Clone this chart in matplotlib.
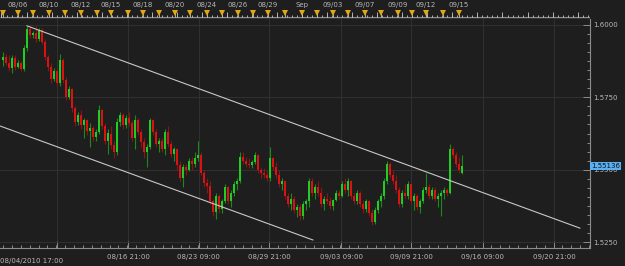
import matplotlib
matplotlib.use('Agg')
import matplotlib.pyplot as plt
import matplotlib.transforms as mtransforms
from matplotlib.ticker import MultipleLocator, AutoMinorLocator
import numpy as np

# candles (one per bar)
opens = [1.5880, 1.5890, 1.5870, 1.5850, 1.5885, 1.5855, 1.5870, 1.5848, 1.5920, 1.5985,
         1.5965, 1.5972, 1.5950, 1.5982, 1.5942, 1.5890, 1.5855, 1.5815, 1.5840, 1.5800,
         1.5880, 1.5810, 1.5752, 1.5780, 1.5712, 1.5665, 1.5690, 1.5655, 1.5670, 1.5632,
         1.5645, 1.5612, 1.5630, 1.5705, 1.5650, 1.5600, 1.5625, 1.5585, 1.5560, 1.5665,
         1.5690, 1.5655, 1.5680, 1.5660, 1.5610, 1.5670, 1.5630, 1.5595, 1.5560, 1.5580,
         1.5670, 1.5630, 1.5590, 1.5600, 1.5570, 1.5630, 1.5590, 1.5555, 1.5570, 1.5515,
         1.5470, 1.5510, 1.5500, 1.5530, 1.5520, 1.5540, 1.5550, 1.5490, 1.5455, 1.5445,
         1.5390, 1.5355, 1.5410, 1.5365, 1.5390, 1.5440, 1.5390, 1.5420, 1.5450, 1.5460,
         1.5545, 1.5530, 1.5520, 1.5515, 1.5528, 1.5550, 1.5500, 1.5490, 1.5480, 1.5470,
         1.5540, 1.5510, 1.5480, 1.5450, 1.5460, 1.5410, 1.5380, 1.5400, 1.5360, 1.5370,
         1.5340, 1.5380, 1.5390, 1.5460, 1.5420, 1.5440, 1.5420, 1.5380, 1.5400, 1.5390,
         1.5375, 1.5395, 1.5420, 1.5410, 1.5450, 1.5430, 1.5460, 1.5410, 1.5390, 1.5420,
         1.5380, 1.5365, 1.5390, 1.5350, 1.5320, 1.5360, 1.5390, 1.5410, 1.5460, 1.5520,
         1.5480, 1.5460, 1.5430, 1.5380, 1.5420, 1.5410, 1.5450, 1.5390, 1.5410, 1.5370,
         1.5390, 1.5430, 1.5440, 1.5410, 1.5430, 1.5400, 1.5410, 1.5420, 1.5430, 1.5420,
         1.5570, 1.5550, 1.5520, 1.5490]
highs = [1.5905, 1.5900, 1.5895, 1.5898, 1.5896, 1.5878, 1.5875, 1.5930, 1.5998, 1.5995,
         1.5978, 1.5996, 1.5990, 1.5988, 1.5950, 1.5895, 1.5870, 1.5850, 1.5848, 1.5900,
         1.5885, 1.5820, 1.5790, 1.5782, 1.5720, 1.5700, 1.5705, 1.5680, 1.5675, 1.5660,
         1.5650, 1.5640, 1.5725, 1.5710, 1.5660, 1.5640, 1.5650, 1.5600, 1.5680, 1.5700,
         1.5695, 1.5690, 1.5700, 1.5670, 1.5690, 1.5680, 1.5640, 1.5610, 1.5590, 1.5680,
         1.5675, 1.5640, 1.5610, 1.5610, 1.5640, 1.5650, 1.5600, 1.5580, 1.5575, 1.5530,
         1.5520, 1.5520, 1.5540, 1.5545, 1.5560, 1.5600, 1.5560, 1.5500, 1.5470, 1.5460,
         1.5400, 1.5420, 1.5415, 1.5400, 1.5450, 1.5445, 1.5430, 1.5460, 1.5470, 1.5560,
         1.5560, 1.5545, 1.5540, 1.5535, 1.5560, 1.5555, 1.5510, 1.5505, 1.5495, 1.5580,
         1.5545, 1.5525, 1.5500, 1.5470, 1.5465, 1.5420, 1.5420, 1.5410, 1.5380, 1.5380,
         1.5390, 1.5400, 1.5470, 1.5470, 1.5450, 1.5460, 1.5440, 1.5410, 1.5420, 1.5405,
         1.5400, 1.5430, 1.5430, 1.5460, 1.5470, 1.5470, 1.5465, 1.5420, 1.5430, 1.5425,
         1.5395, 1.5400, 1.5395, 1.5365, 1.5370, 1.5400, 1.5420, 1.5470, 1.5530, 1.5525,
         1.5500, 1.5480, 1.5440, 1.5430, 1.5450, 1.5460, 1.5455, 1.5420, 1.5415, 1.5400,
         1.5440, 1.5490, 1.5450, 1.5440, 1.5440, 1.5420, 1.5430, 1.5440, 1.5435, 1.5590,
         1.5580, 1.5560, 1.5545, 1.5550]
lows = [1.5860, 1.5862, 1.5840, 1.5835, 1.5845, 1.5850, 1.5840, 1.5842, 1.5910, 1.5955,
        1.5955, 1.5940, 1.5945, 1.5935, 1.5880, 1.5840, 1.5800, 1.5805, 1.5790, 1.5790,
        1.5800, 1.5740, 1.5745, 1.5700, 1.5650, 1.5655, 1.5640, 1.5610, 1.5620, 1.5580,
        1.5600, 1.5600, 1.5625, 1.5640, 1.5590, 1.5555, 1.5570, 1.5540, 1.5550, 1.5650,
        1.5640, 1.5645, 1.5650, 1.5600, 1.5570, 1.5620, 1.5580, 1.5540, 1.5510, 1.5570,
        1.5620, 1.5580, 1.5560, 1.5560, 1.5550, 1.5580, 1.5545, 1.5530, 1.5500, 1.5460,
        1.5440, 1.5480, 1.5495, 1.5500, 1.5510, 1.5530, 1.5480, 1.5440, 1.5420, 1.5380,
        1.5340, 1.5330, 1.5350, 1.5350, 1.5385, 1.5380, 1.5370, 1.5410, 1.5430, 1.5455,
        1.5520, 1.5510, 1.5505, 1.5505, 1.5520, 1.5490, 1.5470, 1.5470, 1.5460, 1.5460,
        1.5500, 1.5470, 1.5440, 1.5430, 1.5400, 1.5370, 1.5360, 1.5350, 1.5335, 1.5325,
        1.5330, 1.5360, 1.5370, 1.5410, 1.5400, 1.5410, 1.5370, 1.5360, 1.5380, 1.5365,
        1.5360, 1.5390, 1.5400, 1.5405, 1.5420, 1.5410, 1.5400, 1.5380, 1.5380, 1.5370,
        1.5350, 1.5355, 1.5340, 1.5310, 1.5312, 1.5350, 1.5370, 1.5400, 1.5450, 1.5470,
        1.5450, 1.5420, 1.5370, 1.5370, 1.5400, 1.5400, 1.5380, 1.5360, 1.5360, 1.5350,
        1.5385, 1.5420, 1.5400, 1.5400, 1.5390, 1.5370, 1.5340, 1.5400, 1.5410, 1.5415,
        1.5540, 1.5510, 1.5490, 1.5485]
closes = [1.5890, 1.5870, 1.5850, 1.5885, 1.5855, 1.5870, 1.5848, 1.5920, 1.5985, 1.5965,
          1.5972, 1.5950, 1.5982, 1.5942, 1.5890, 1.5855, 1.5815, 1.5840, 1.5800, 1.5880,
          1.5810, 1.5752, 1.5780, 1.5712, 1.5665, 1.5690, 1.5655, 1.5670, 1.5632, 1.5645,
          1.5612, 1.5630, 1.5705, 1.5650, 1.5600, 1.5625, 1.5585, 1.5560, 1.5665, 1.5690,
          1.5655, 1.5680, 1.5660, 1.5610, 1.5670, 1.5630, 1.5595, 1.5560, 1.5580, 1.5670,
          1.5630, 1.5590, 1.5600, 1.5570, 1.5630, 1.5590, 1.5555, 1.5570, 1.5515, 1.5470,
          1.5510, 1.5500, 1.5530, 1.5520, 1.5540, 1.5550, 1.5490, 1.5455, 1.5445, 1.5390,
          1.5355, 1.5410, 1.5365, 1.5390, 1.5440, 1.5390, 1.5420, 1.5450, 1.5460, 1.5545,
          1.5530, 1.5520, 1.5515, 1.5528, 1.5550, 1.5500, 1.5490, 1.5480, 1.5470, 1.5540,
          1.5510, 1.5480, 1.5450, 1.5460, 1.5410, 1.5380, 1.5400, 1.5360, 1.5370, 1.5340,
          1.5380, 1.5390, 1.5460, 1.5420, 1.5440, 1.5420, 1.5380, 1.5400, 1.5390, 1.5375,
          1.5395, 1.5420, 1.5410, 1.5450, 1.5430, 1.5460, 1.5410, 1.5390, 1.5420, 1.5380,
          1.5365, 1.5390, 1.5350, 1.5320, 1.5360, 1.5390, 1.5410, 1.5460, 1.5520, 1.5480,
          1.5460, 1.5430, 1.5380, 1.5420, 1.5410, 1.5450, 1.5390, 1.5410, 1.5370, 1.5390,
          1.5430, 1.5440, 1.5410, 1.5430, 1.5400, 1.5410, 1.5420, 1.5430, 1.5420, 1.5570,
          1.5550, 1.5520, 1.5500, 1.55136]
last_price = '1.55136'

# channel lines: (bar index, price) end points
upper_line = [(8, 1.5997), (192.3, 1.5298)]
lower_line = [(-1, 1.5651), (103.3, 1.5257)]

# bottom time axis
time_ticks = [18, 41.7, 65.3, 88.7, 112.7, 136, 160, 183.7]
time_labels = ['', '08/16 21:00', '08/23 09:00', '08/29 21:00', '09/03 09:00',
               '09/09 21:00', '09/16 09:00', '09/20 21:00']
first_label = '08/04/2010 17:00'

# top day strip
day_marks = [0, 5, 10, 15.3, 20.7, 26, 31.3, 36, 41.7, 46.7, 52, 57.3, 62.3, 68, 73,
             78.3, 83.3, 88.3, 94, 99.7, 104.7, 110, 115, 120.7, 126, 131.7, 136.3,
             141, 146.7, 152]
day_label_pos = [5, 15.3, 26, 36, 46.7, 57.3, 68, 78.3, 88.3, 99.7, 110, 120.7, 131.7, 141, 152]
day_labels = ['08/06', '08/10', '08/12', '08/15', '08/18', '08/20', '08/24', '08/26',
              '08/29', 'Sep', '09/03', '09/07', '09/09', '09/12', '09/15']

price_ticks = [1.5250, 1.5500, 1.5750, 1.6000]

bg = '#1e1e1e'
txt = '#b8b8b8'
W, H = 625, 266
fig = plt.figure(figsize=(W / 100, H / 100), dpi=100, facecolor=bg)

ax = fig.add_axes([0, (H - 248) / H, 590 / W, 229 / H], facecolor=bg)
top = fig.add_axes([0, (H - 19) / H, 590 / W, 19 / H], facecolor=bg, sharex=ax)

x = np.arange(len(closes))
o = np.array(opens); c = np.array(closes)
up = c >= o
ax.vlines(x[up], np.array(lows)[up], np.array(highs)[up], color='#1b8a1b', lw=0.8, zorder=3)
ax.vlines(x[~up], np.array(lows)[~up], np.array(highs)[~up], color='#8c1414', lw=0.8, zorder=3)
body = np.where(np.abs(c - o) < 0.0003, 0.0003 * np.sign(c - o + 1e-9), c - o)
ax.bar(x[up], body[up], bottom=o[up], width=0.62, color='#22cc22', lw=0, zorder=4)
ax.bar(x[~up], body[~up], bottom=o[~up], width=0.62, color='#dd1111', lw=0, zorder=4)

for ln in (upper_line, lower_line):
    ax.plot([ln[0][0], ln[1][0]], [ln[0][1], ln[1][1]], color='#c8c8c8', lw=0.8, zorder=5)

ax.set_xlim(-1, 195.67)
ax.set_ylim(1.52293, 1.60207)
ax.grid(True, color='#303030', lw=0.8, zorder=0)

ax.yaxis.tick_right()
ax.set_yticks(price_ticks)
ax.set_yticklabels(['%.4f' % p for p in price_ticks])
ax.yaxis.set_minor_locator(MultipleLocator(0.003125))
ax.set_xticks(time_ticks)
ax.set_xticklabels(time_labels)
ax.xaxis.set_minor_locator(MultipleLocator(2.96))
ax.tick_params(axis='both', which='major', direction='in', length=5, width=0.7,
               color='#8c8c8c', labelcolor=txt, labelsize=5)
ax.tick_params(axis='both', which='minor', direction='in', length=2.2, width=0.7,
               color='#8c8c8c')
ax.tick_params(axis='x', pad=4.5)
ax.tick_params(axis='y', pad=2)
for s in ('left', 'top'):
    ax.spines[s].set_visible(False)
for s in ('right', 'bottom'):
    ax.spines[s].set_color('#8c8c8c')
    ax.spines[s].set_linewidth(0.8)

ax.text(-1, -0.045, first_label, transform=mtransforms.blended_transform_factory(ax.transData, ax.transAxes),
        ha='left', va='top', color=txt, fontsize=5)
ax.text(1.002, float(last_price), last_price,
        transform=mtransforms.blended_transform_factory(ax.transAxes, ax.transData),
        ha='left', va='center', color='#101010', fontsize=5, zorder=10, clip_on=False,
        bbox=dict(boxstyle='square,pad=0.15', fc='#5aaef2', ec='none'))

# top strip
top.set_ylim(19, 0)
top.axis('off')
top.hlines(17, -1, 195.67, color='#8c8c8c', lw=0.8)
top.axhline(19, color='#3a3a3a', lw=1.2)
top.vlines(np.arange(-0.5, 195.67, 1.67), 14.5, 17, color='#c8c8c8', lw=0.6)
top.vlines(np.arange(-0.5, 195.67, 8.35), 12, 17, color='#c8c8c8', lw=0.6)
top.vlines(day_marks, 12, 17, color='#c8c8c8', lw=0.6)
top.plot(day_marks, [13.2] * len(day_marks), 'v', color='#e0a814', ms=4.2, mew=0, clip_on=False)
for p, lab in zip(day_label_pos, day_labels):
    top.text(p, 5.5, lab, ha='center', va='center', color=txt, fontsize=5)

fig.savefig('out.png', dpi=100, facecolor=bg)
